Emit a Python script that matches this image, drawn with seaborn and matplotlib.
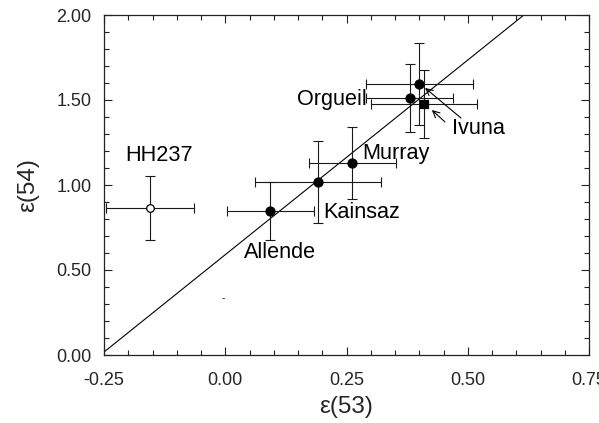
import matplotlib
matplotlib.use("Agg")
import matplotlib.pyplot as plt
import seaborn as sns
import pandas as pd
from matplotlib.ticker import MultipleLocator, FormatStrFormatter

# ---- data ----
names = ["HH237", "Allende", "Kainsaz", "Murray", "Orgueil", "Ivuna-a", "Ivuna-b"]
eps53 = [-0.155, 0.093, 0.192, 0.262, 0.380, 0.400, 0.410]
eps54 = [0.865, 0.847, 1.018, 1.13, 1.51, 1.594, 1.476]
err53 = [0.09, 0.09, 0.13, 0.09, 0.09, 0.11, 0.11]
err54 = [0.19, 0.17, 0.24, 0.21, 0.20, 0.24, 0.20]
markers = ["o", "o", "o", "o", "o", "o", "s"]
fills = ["white", "black", "black", "black", "black", "black", "black"]

line_slope = 2.29
line_intercept = 0.59

labels = ["HH237", "Allende", "Kainsaz", "Murray", "Orgueil", "Ivuna"]
label_x = [-0.137, 0.113, 0.2015, 0.282, 0.148, 0.467]
label_y = [1.176, 0.60, 0.841, 1.188, 1.50, 1.33]
label_ha = ["center", "center", "left", "left", "left", "left"]

sns.set_theme(style="ticks")
plt.rcParams["font.family"] = ["Liberation Sans", "DejaVu Sans"]
plt.rcParams["axes.unicode_minus"] = False

df = pd.DataFrame({"name": names, "x": eps53, "y": eps54,
                   "marker": markers, "fill": fills})

fig = plt.figure(figsize=(5.99, 4.23), dpi=100)
ax = fig.add_axes([104 / 599, 1 - 355 / 423, 485 / 599, 340 / 423])

ax.axline((0, line_intercept), slope=line_slope, color="black", lw=0.8, zorder=1)

for i in range(len(names)):
    ax.errorbar(eps53[i], eps54[i], xerr=err53[i], yerr=err54[i], fmt="none",
                ecolor="#1a1a1a", elinewidth=0.8, capsize=3.5, capthick=0.8, zorder=2)

sizes = {("o", "black"): 42, ("o", "white"): 30, ("s", "black"): 40}
for (m, fc), sz in sizes.items():
    sub = df[(df["marker"] == m) & (df["fill"] == fc)]
    sns.scatterplot(data=sub, x="x", y="y", ax=ax, marker=m, s=sz,
                    color=fc, edgecolor="black", linewidth=0.9, zorder=3, legend=False)

for t, lx, ly, ha in zip(labels, label_x, label_y, label_ha):
    ax.text(lx, ly, t, fontsize=15.6, ha=ha, va="center", color="black")

# arrows from the Ivuna label
ax.annotate("", xy=(0.412, 1.571), xytext=(0.486, 1.394),
            arrowprops=dict(arrowstyle="->", lw=0.8, color="black",
                            shrinkA=0, shrinkB=0))
ax.annotate("", xy=(0.426, 1.441), xytext=(0.453, 1.371),
            arrowprops=dict(arrowstyle="->", lw=0.8, color="black",
                            shrinkA=0, shrinkB=0))

# small stray dash present in the original figure
ax.text(-0.004, 0.335, "-", fontsize=7, ha="center", va="center", color="black")

ax.set_xlim(-0.25, 0.75)
ax.set_ylim(0.0, 2.0)
ax.xaxis.set_major_locator(MultipleLocator(0.25))
ax.xaxis.set_minor_locator(MultipleLocator(0.05))
ax.yaxis.set_major_locator(MultipleLocator(0.5))
ax.yaxis.set_minor_locator(MultipleLocator(0.1))
ax.xaxis.set_major_formatter(FormatStrFormatter("%.2f"))
ax.yaxis.set_major_formatter(FormatStrFormatter("%.2f"))
ax.tick_params(which="both", direction="in", top=True, right=True,
               labelsize=13, color="#222222")
ax.tick_params(which="major", length=5.5, width=0.8)
ax.tick_params(which="minor", length=3.5, width=0.8)
ax.tick_params(axis="x", which="major", pad=12)
ax.tick_params(axis="y", which="major", pad=9)
for s in ax.spines.values():
    s.set_linewidth(0.9)
    s.set_color("#222222")

ax.set_xlabel("ε(53)", fontsize=17.5, va="center")
ax.xaxis.set_label_coords(0.5, -(407 - 355) / 340)
ax.set_ylabel("ε(54)", fontsize=17.5, va="center")
ax.yaxis.set_label_coords((28 - 104) / 485, 0.5)

fig.savefig("out.png", dpi=100)
